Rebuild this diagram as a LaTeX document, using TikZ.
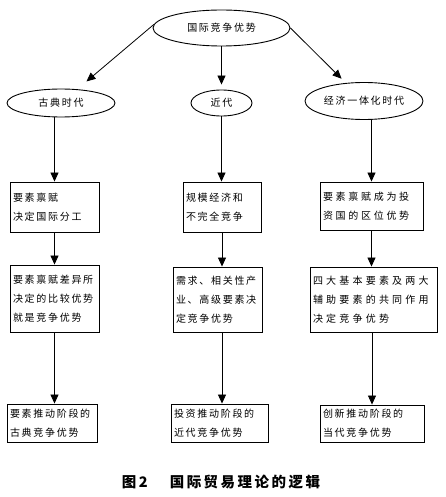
\documentclass[tikz,border=0pt]{standalone}
\usepackage{fontspec}
\newfontfamily\cjk[LetterSpace=17]{Noto Sans CJK SC}
\usepackage{tikz}
\usetikzlibrary{arrows.meta,shapes.geometric}

\begin{document}
\begin{tikzpicture}[
  x=1pt, y=-1pt,
  font=\cjk\fontsize{10}{19}\selectfont,
  era/.style={draw, ellipse, line width=0.9pt, inner sep=0pt},
  box/.style={draw, line width=0.9pt, align=left, inner xsep=3pt, inner ysep=0pt},
  arr/.style={-{Triangle[length=9pt,width=8pt]}, line width=0.8pt}
]
\useasboundingbox (0,0) rectangle (446,497);
\node[era, minimum width=137pt, minimum height=36pt] (top) at (221.5,28) {国际竞争优势};
\node[era, minimum width=108pt, minimum height=28pt] (gudian) at (61,103) {古典时代};
\node[era, minimum width=61pt, minimum height=26pt] (jindai) at (221.5,103) {近代};
\node[era, minimum width=118pt, minimum height=37pt] (yiti) at (364,101) {经济一体化时代};

\node[box, text width=83pt, minimum height=50pt] (a1) at (54.5,207) {要素禀赋\\决定国际分工};
\node[box, text width=72pt, minimum height=50pt] (b1) at (222,207) {规模经济和\\不完全竞争};
\node[box, text width=97pt, minimum height=48pt] (c1) at (371.5,206)
  {\addfontfeature{LetterSpace=27}要素禀赋成为投\\资国的区位优势};

\node[box, text width=83pt, minimum height=67pt] (a2) at (54.5,298.5) {要素禀赋差异所\\决定的比较优势\\就是竞争优势};
\node[box, text width=83pt, minimum height=65pt] (b2) at (217.5,299.5) {需求、相关性产\\业、高级要素决\\定竞争优势};
\node[box, text width=121pt, minimum height=65pt] (c2) at (373.5,299.5)
  {\addfontfeature{LetterSpace=32}四大基本要素及两大\\辅助要素的共同作用\\决定竞争优势};

\node[box, text width=84pt, minimum height=38pt] (a3) at (52,423) {要素推动阶段的\\古典竞争优势};
\node[box, text width=91pt, minimum height=38pt] (b3) at (219.5,423) {投资推动阶段的\\近代竞争优势};
\node[box, text width=98pt, minimum height=37pt] (c3) at (372,423.5) {创新推动阶段的\\当代竞争优势};

\node[font=\cjk\bfseries\fontsize{14.5}{14.5}\selectfont] (cap) at (221,482) {图2\hspace{22pt}国际贸易理论的逻辑};

\draw[arr, shorten >=12pt] (top.177) -- (gudian);
\draw[arr, shorten >=5pt] (top) -- (jindai);
\draw[arr, shorten >=6pt] (top.0) -- (yiti);

\draw[arr] (a1.north |- gudian.south) -- (a1.north);
\draw[arr] (jindai.south) -- (jindai.south |- b1.north);
\draw[arr] (c1.north |- yiti.south) -- (c1.north);

\draw[arr] (a1) -- (a2);
\draw[arr] (b1.south) -- (b1.south |- b2.north);
\draw[arr] (c1.south) -- (c1.south |- c2.north);

\draw[arr] (a2.south) -- (a2.south |- a3.north);
\draw[arr] (b1.south |- b2.south) -- (b1.south |- b3.north);
\draw[arr] (c3.north |- c2.south) -- (c3.north);
\end{tikzpicture}
\end{document}
